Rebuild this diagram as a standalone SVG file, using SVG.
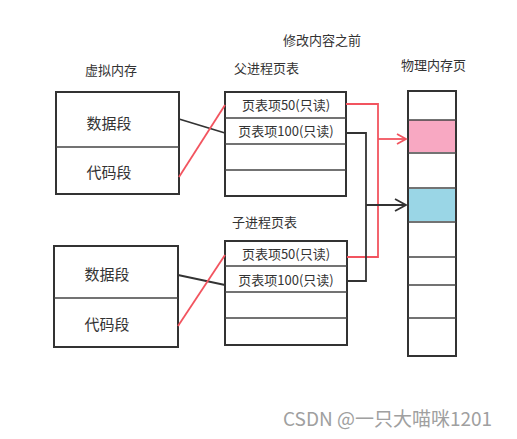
<svg xmlns="http://www.w3.org/2000/svg" width="517" height="439" viewBox="0 0 517 439">
<defs>
<style>
.box{fill:#fff;stroke:#333;stroke-width:2}
.div{stroke:#444;stroke-width:1.6}
.t{font-family:"Noto Sans CJK SC","Noto Sans",sans-serif;fill:#333}
.title{font-size:13px}
.seg{font-size:15px}
.ent{font-size:13px}
.red{fill:none;stroke:#f2545f;stroke-width:1.8}
.blk{fill:none;stroke:#333;stroke-width:1.8}
</style>
<marker id="ar" markerWidth="12" markerHeight="12" refX="10" refY="6" orient="auto" markerUnits="userSpaceOnUse"><path d="M1,1 L10,6 L1,11" fill="none" stroke="#f2545f" stroke-width="1.8"/></marker>
<marker id="ab" markerWidth="14" markerHeight="14" refX="12" refY="7" orient="auto" markerUnits="userSpaceOnUse"><path d="M1,1 L12,7 L1,13" fill="none" stroke="#333" stroke-width="1.8"/></marker>
</defs>
<rect width="517" height="439" fill="#fff"/>
<text class="t title" x="283" y="45">修改内容之前</text>
<text class="t title" x="85" y="75">虚拟内存</text>
<text class="t title" x="234" y="73">父进程页表</text>
<text class="t title" x="401" y="70">物理内存页</text>
<text class="t title" x="232" y="227">子进程页表</text>

<g id="vm1">
<rect class="box" x="56" y="92" width="123" height="102"/>
<line class="div" x1="56" y1="147" x2="179" y2="147"/>
<text class="t seg" x="109" y="129" text-anchor="middle">数据段</text>
<text class="t seg" x="109" y="178" text-anchor="middle">代码段</text>
</g>
<g id="vm2">
<rect class="box" x="54" y="246" width="124" height="101"/>
<line class="div" x1="54" y1="298" x2="178" y2="298"/>
<text class="t seg" x="107" y="280" text-anchor="middle">数据段</text>
<text class="t seg" x="107" y="330" text-anchor="middle">代码段</text>
</g>
<g id="ppt">
<rect class="box" x="225" y="92" width="121" height="104"/>
<line class="div" x1="225" y1="118" x2="346" y2="118"/>
<line class="div" x1="225" y1="144" x2="346" y2="144"/>
<line class="div" x1="225" y1="170" x2="346" y2="170"/>
<text class="t ent" x="286" y="110" text-anchor="middle">页表项50(只读)</text>
<text class="t ent" x="286" y="136" text-anchor="middle">页表项100(只读)</text>
</g>
<g id="cpt">
<rect class="box" x="225" y="241" width="122" height="104"/>
<line class="div" x1="225" y1="266" x2="347" y2="266"/>
<line class="div" x1="225" y1="292" x2="347" y2="292"/>
<line class="div" x1="225" y1="318" x2="347" y2="318"/>
<text class="t ent" x="286" y="259" text-anchor="middle">页表项50(只读)</text>
<text class="t ent" x="286" y="285" text-anchor="middle">页表项100(只读)</text>
</g>
<g id="phys">
<rect class="box" x="408" y="91" width="48" height="265"/>
<rect x="409" y="120" width="46" height="32" fill="#f8a8c2"/>
<rect x="409" y="189" width="46" height="32" fill="#9ad6e6"/>
<line class="div" x1="408" y1="120" x2="456" y2="120"/>
<line class="div" x1="408" y1="153" x2="456" y2="153"/>
<line class="div" x1="408" y1="188" x2="456" y2="188"/>
<line class="div" x1="408" y1="222" x2="456" y2="222"/>
<line class="div" x1="408" y1="257" x2="456" y2="257"/>
<line class="div" x1="408" y1="285" x2="456" y2="285"/>
<line class="div" x1="408" y1="318" x2="456" y2="318"/>
</g>
<g id="connectors">
<line class="blk" x1="179" y1="119" x2="225" y2="133"/>
<line class="red" x1="179" y1="177" x2="225" y2="105"/>
<line class="blk" x1="178" y1="275" x2="225" y2="285"/>
<line class="red" x1="178" y1="326" x2="225" y2="255"/>
<path class="red" d="M346,104 H378 V257 H347"/>
<path class="red" d="M378,139 H406" marker-end="url(#ar)"/>
<path class="blk" d="M346,133 H366 V281 H347"/>
<path class="blk" d="M366,205 H406" marker-end="url(#ab)"/>
</g>
<text x="283" y="426" font-family="'Noto Sans CJK SC','Liberation Sans',sans-serif" font-size="19" fill="#a0a0a0">CSDN @一只大喵咪1201</text>
</svg>
